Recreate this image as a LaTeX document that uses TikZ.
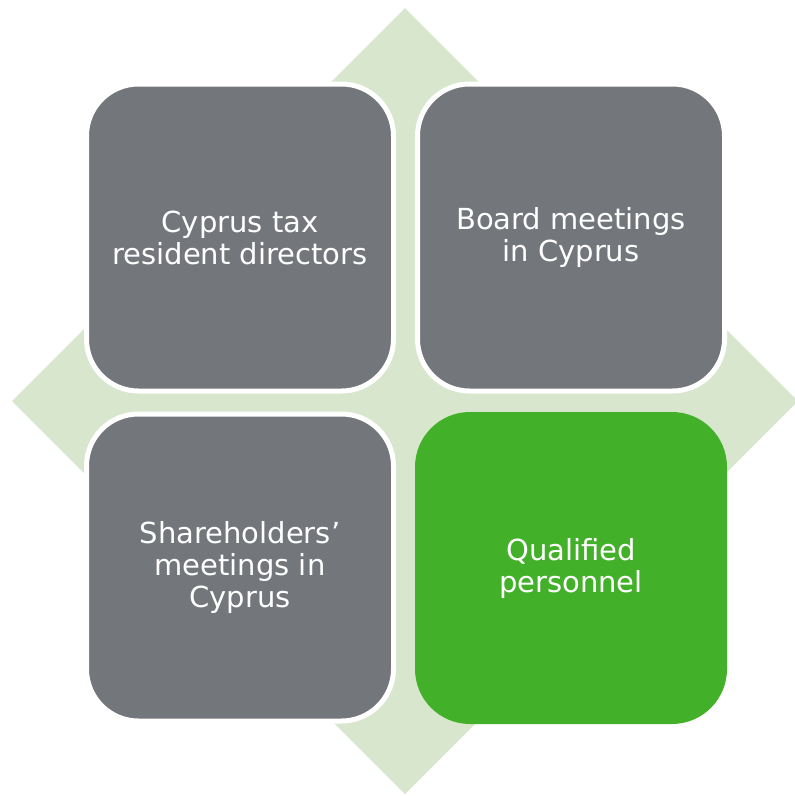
\documentclass[tikz,border=0pt]{standalone}
\usepackage{fontspec}
\setmainfont{DejaVu Sans}
\definecolor{TileGray}{HTML}{73767A}
\definecolor{TileGreen}{HTML}{43B02A}
\definecolor{PaleGreen}{HTML}{D9E6CE}
\usetikzlibrary{positioning}

\begin{document}
\begin{tikzpicture}[x=1pt,y=-1pt,
    tile/.style={rounded corners=52pt,minimum width=307pt,minimum height=307pt,
      inner sep=0pt,fill=TileGray,draw=white,line width=5pt,text=white,
      align=center,font=\fontsize{29}{32}\selectfont}]
        \useasboundingbox (0,0) rectangle (795,796);
        % background diamond
        \fill[PaleGreen] (405,8) -- (798,401) -- (405,794) -- (12,401) -- cycle;
        % tiles
        \node[tile] (directors) at (240,237.5)
              {Cyprus tax\\resident directors};
        \node[tile] (board) at (571,237.5)
              {Board meetings\\in Cyprus};
        \node[tile] (shareholders) at (240,567.5)
              {Shareholders’\\meetings in\\Cyprus};
        \node[tile,fill=TileGreen,draw=none,minimum width=312pt,
              minimum height=312pt,rounded corners=55pt] (personnel) at (571,568)
              {Qualified\\personnel};
      \end{tikzpicture}
\end{document}
